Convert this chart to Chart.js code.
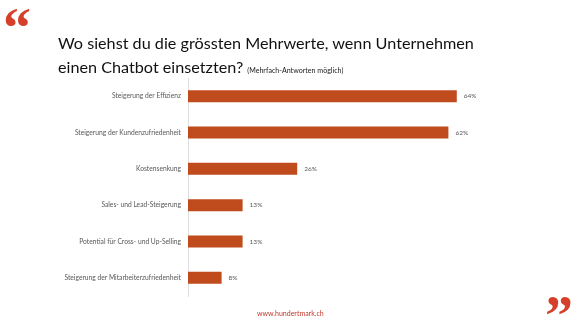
<!DOCTYPE html>
<html>
<head>
<meta charset="utf-8">
<script src="https://cdn.jsdelivr.net/npm/chart.js@4/dist/chart.umd.min.js"></script>
<style>
  html, body { margin: 0; padding: 0; background: #ffffff; }
  #wrap { position: relative; width: 580px; height: 325px; overflow: hidden; }
  #c { position: absolute; left: 0; top: 0; }
  .title { position: absolute; left: 58px; font-family: Lato, "Open Sans", sans-serif; font-size: 16.2px; color: #111; white-space: nowrap; }
  .sub { font-size: 7.1px; color: #222; }
  .quote { position: absolute; font-family: "Liberation Serif", serif; font-weight: bold; color: #d6402a; font-size: 56px; line-height: 56px; }
  .footer { position: absolute; left: 257px; top: 309px; font-family: Lato, sans-serif; font-size: 7px; color: #c0392b; }
</style>
</head>
<body>
<div id="wrap">
  <canvas id="c" width="580" height="325"></canvas>
  <div class="quote" style="left:3px; top:0px;">“</div>
  <div class="title" style="top:33px;">Wo siehst du die grössten Mehrwerte, wenn Unternehmen</div>
  <div class="title" style="top:57px;">einen Chatbot einsetzten? <span class="sub">(Mehrfach-Antworten möglich)</span></div>
  <div class="footer">www.hundertmark.ch</div>
  <div class="quote" style="left:545px; top:288px;">”</div>
</div>
<script>
const categories = [
  "Steigerung der Effizienz",
  "Steigerung der Kundenzufriedenheit",
  "Kostensenkung",
  "Sales- und Lead-Steigerung",
  "Potential für Cross- und Up-Selling",
  "Steigerung der Mitarbeiterzufriedenheit"
];
const values = [64, 62, 26, 13, 13, 8];
const valueSuffix = "%";

const valueLabels = {
  id: 'valueLabels',
  afterDatasetsDraw(chart) {
    const ctx = chart.ctx;
    const meta = chart.getDatasetMeta(0);
    ctx.save();
    ctx.font = '6.5px Lato, sans-serif';
    ctx.fillStyle = '#595959';
    ctx.textAlign = 'left';
    ctx.textBaseline = 'middle';
    meta.data.forEach((bar, i) => {
      ctx.fillText(values[i] + valueSuffix, bar.x + 7, bar.y);
    });
    ctx.restore();
  }
};

new Chart(document.getElementById('c'), {
  type: 'bar',
  data: {
    labels: categories,
    datasets: [{
      data: values,
      backgroundColor: '#c04b1c',
      borderWidth: 0,
      barPercentage: 0.66,
      categoryPercentage: 0.5
    }]
  },
  options: {
    indexAxis: 'y',
    responsive: false,
    animation: false,
    layout: { padding: { left: 0, right: 14, top: 78, bottom: 29 } },
    plugins: { legend: { display: false }, tooltip: { enabled: false } },
    scales: {
      x: { display: false, min: 0, max: 90 },
      y: {
        afterFit(scale) { scale.width = 188; },
        grid: { display: false, drawTicks: false },
        border: { display: true, color: '#dedede', width: 1 },
        ticks: { color: '#595959', padding: 7, font: { family: 'Lato, sans-serif', size: 6.7 } }
      }
    }
  },
  plugins: [valueLabels]
});
</script>
</body>
</html>
